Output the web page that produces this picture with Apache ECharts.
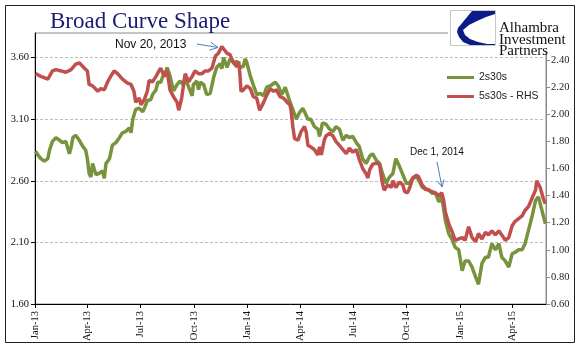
<!DOCTYPE html>
<html><head><meta charset="utf-8">
<script src="https://cdn.jsdelivr.net/npm/echarts@6/dist/echarts.min.js"></script>
<style>html,body{margin:0;padding:0;background:#fff}#c{width:583px;height:361px}</style>
</head><body><div id="c"></div>
<script>
const startDate = '2013-01-01';
const endDate = '2015-05-29';
const monthNames = ['Jan','Feb','Mar','Apr','May','Jun','Jul','Aug','Sep','Oct','Nov','Dec'];
const tickMonths = ['01','04','07','10'];

// days since 2013-01-01
const days2s30s = [1,5,10,16,22,25,30,36,42,47,53,56,59,62,65,70,76,82,87,90,93,96,99,102,105,110,116,119,122,128,133,139,145,150,156,162,165,168,173,179,185,188,193,199,202,208,211,216,219,225,
227,232,238,244,249,255,258,264,270,272,278,281,284,290,295,301,307,312,318,321,324,330,335,341,347,352,358,361,364,370,375,381,387,393,398,404,413,418,424,430,436,
437,443,449,454,460,463,469,474,480,486,489,494,500,506,512,517,523,529,535,540,546,552,557,563,569,575,580,586,592,597,603,609,615,620,626,632,638,643,649,655,
659,665,671,676,682,688,694,699,705,711,717,722,728,734,739,745,751,757,762,768,774,779,785,791,797,802,808,814,820,825,831,837,842,848,854,860,865,871,877];
const values2s30s = [2.84,2.81,2.78,2.76,2.78,2.85,2.92,2.95,2.93,2.91,2.92,2.87,2.82,2.87,2.95,2.97,2.93,2.88,2.85,2.78,2.66,2.63,2.74,2.69,2.65,2.66,2.68,2.62,2.74,2.78,2.89,2.91,2.95,2.99,3.00,3.03,2.99,3.10,3.18,3.19,3.16,3.19,3.25,3.26,3.30,3.34,3.40,3.40,3.44,3.49,
3.52,3.45,3.33,3.38,3.41,3.38,3.44,3.36,3.29,3.38,3.41,3.34,3.40,3.38,3.30,3.31,3.44,3.52,3.55,3.51,3.60,3.52,3.59,3.56,3.57,3.52,3.53,3.59,3.56,3.45,3.38,3.30,3.31,3.29,3.36,3.37,3.40,3.37,3.30,3.36,3.27,
3.26,3.18,3.10,3.15,3.19,3.16,3.10,3.10,3.04,3.02,2.96,3.07,3.06,3.02,3.00,3.04,3.02,2.93,2.97,2.95,2.96,2.91,2.88,2.78,2.74,2.80,2.82,2.77,2.74,2.66,2.58,2.63,2.66,2.78,2.72,2.65,2.58,2.58,2.62,2.63,
2.61,2.55,2.53,2.53,2.50,2.50,2.43,2.47,2.28,2.17,2.12,2.06,2.04,1.87,1.95,1.95,1.90,1.82,1.76,1.93,1.98,1.98,2.09,2.04,2.09,1.98,1.95,1.90,2.01,2.02,2.04,2.04,2.09,2.20,2.31,2.44,2.47,2.36,2.25];

const days5s30s = [1,10,22,30,36,45,53,62,70,76,85,90,93,99,108,113,119,125,130,136,142,148,153,159,165,170,173,179,182,188,193,196,202,208,213,216,222,
227,232,238,244,247,252,258,264,270,275,281,287,292,298,304,310,315,321,324,330,335,341,347,350,352,354,358,364,370,375,381,386,393,398,404,410,415,421,427,433,438,
440,443,446,452,457,463,466,469,474,480,486,489,492,497,500,506,512,517,523,529,535,540,546,552,557,563,569,572,575,580,586,592,597,600,606,612,615,620,626,632,635,640,644,649,655,
659,665,671,676,682,688,694,699,702,705,711,717,722,728,734,739,745,751,757,762,768,774,779,785,791,797,802,808,814,820,825,831,837,842,848,854,860,862,868,874,877];
const values5s30s = [2.30,2.28,2.26,2.32,2.33,2.32,2.31,2.33,2.37,2.38,2.34,2.32,2.22,2.21,2.17,2.19,2.18,2.24,2.28,2.32,2.30,2.27,2.25,2.23,2.22,2.17,2.09,2.12,2.07,2.11,2.17,2.25,2.24,2.28,2.32,2.34,2.28,
2.32,2.18,2.13,2.09,2.03,2.12,2.30,2.24,2.28,2.32,2.30,2.30,2.32,2.32,2.34,2.43,2.45,2.50,2.51,2.45,2.44,2.38,2.35,2.39,2.30,2.17,2.18,2.21,2.19,2.13,2.12,2.03,2.09,2.14,2.19,2.17,2.18,2.13,2.12,2.09,2.07,
2.03,1.91,1.82,1.81,1.87,1.91,1.87,1.77,1.76,1.74,1.70,1.76,1.70,1.81,1.84,1.86,1.84,1.80,1.77,1.74,1.71,1.75,1.72,1.74,1.67,1.60,1.56,1.53,1.59,1.63,1.64,1.63,1.49,1.44,1.48,1.46,1.51,1.46,1.50,1.48,1.43,1.42,1.46,1.53,1.55,
1.54,1.48,1.45,1.44,1.43,1.42,1.40,1.42,1.37,1.28,1.19,1.13,1.07,1.08,1.09,1.07,1.17,1.09,1.06,1.12,1.08,1.13,1.11,1.14,1.11,1.14,1.11,1.07,1.09,1.18,1.21,1.23,1.25,1.29,1.32,1.38,1.44,1.51,1.46,1.37,1.34];

const seriesNames = ['2s30s', '5s30s - RHS'];

// build daily categories
const categories = [];
(function(){
  const s = new Date(startDate + 'T00:00:00Z'), e = new Date(endDate + 'T00:00:00Z');
  for (let t = s.getTime(); t <= e.getTime(); t += 86400000) {
    categories.push(new Date(t).toISOString().slice(0,10));
  }
})();
const isQuarterStart = (i, v) => { const p = v.split('-'); return p[2] === '01' && tickMonths.includes(p[1]); };
const fmtDate = v => { const p = v.split('-'); return monthNames[+p[1]-1] + '-' + p[0].slice(2); };
const pairs = (d, v) => d.map((x, i) => [x, v[i]]);

const serif = 'Liberation Serif';
const sans = 'Liberation Sans';
const chart = echarts.init(document.getElementById('c'), null, {renderer:'canvas'});
chart.setOption({
  animation: false,
  backgroundColor: '#fff',
  title: {
    text: 'Broad Curve Shape', left: 50, top: 10, padding: 0,
    textStyle: {fontFamily: serif, fontSize: 23, fontWeight: 'normal', color: '#1b1b72'}
  },
  legend: {
    orient: 'vertical', left: 442, top: 67, itemWidth: 27, itemHeight: 3, itemGap: 8, icon: 'rect',
    data: seriesNames,
    textStyle: {fontFamily: sans, fontSize: 10.5, color: '#222'}
  },
  grid: {left: 35, right: 37, top: 33, bottom: 57, show: true, borderColor: '#8a8a8a', borderWidth: 1, containLabel: false},
  xAxis: {
    type: 'category', data: categories, boundaryGap: false,
    axisLine: {onZero: false, lineStyle: {color: '#000', width: 1}},
    axisTick: {interval: isQuarterStart, length: 4, lineStyle: {color: '#000'}},
    axisLabel: {interval: isQuarterStart, rotate: 90, margin: 7, formatter: fmtDate, fontFamily: serif, fontSize: 10.5, color: '#111'},
    splitLine: {show: false}
  },
  yAxis: [
    {
      type: 'value', position: 'left', min: 1.6, max: 3.8, interval: 0.5,
      axisLine: {show: true, lineStyle: {color: '#000'}},
      axisTick: {show: true, length: 4, lineStyle: {color: '#000'}},
      axisLabel: {formatter: v => v.toFixed(2), showMaxLabel: false, margin: 6, fontFamily: serif, fontSize: 10.5, color: '#111'},
      splitLine: {show: true, showMinLine: false, showMaxLine: false, lineStyle: {color: '#bdbdbd', type: [3, 2], width: 1}}
    },
    {
      type: 'value', position: 'right', min: 0.6, max: 2.6, interval: 0.2,
      axisLine: {show: true, lineStyle: {color: '#8a8a8a'}},
      axisTick: {show: true, length: 4, lineStyle: {color: '#8a8a8a'}},
      axisLabel: {formatter: v => v.toFixed(2), showMaxLabel: false, margin: 5, fontFamily: serif, fontSize: 10.5, color: '#222'},
      splitLine: {show: false}
    }
  ],
  series: [
    {name: seriesNames[0], type: 'line', yAxisIndex: 0, data: pairs(days2s30s, values2s30s), showSymbol: false, symbol: 'none',
     color: '#77933c', lineStyle: {width: 3.5, color: '#77933c'}},
    {name: seriesNames[1], type: 'line', yAxisIndex: 1, data: pairs(days5s30s, values5s30s), showSymbol: false, symbol: 'none',
     color: '#c0504d', lineStyle: {width: 3.5, color: '#c0504d'}}
  ],
  graphic: [
    {type: 'rect', z: 100, shape: {x: 5.5, y: 5.5, width: 569, height: 337}, style: {fill: 'none', stroke: '#222', lineWidth: 1}},
    {type: 'rect', z: 100, shape: {x: 448, y: 6, width: 126, height: 46}, style: {fill: '#fff', stroke: 'none'}},
    {type: 'rect', z: 101, shape: {x: 450.5, y: 10.5, width: 45, height: 35}, style: {fill: '#fff', stroke: '#c8c8c8', lineWidth: 1}},
    {type: 'polygon', z: 102, shape: {points: [[472,11],[495,11],[495,14],[486,17],[477,21],[469,25],[463,30],[465,35],[470,39],[478,42],[487,44],[495,44],[495,45],[470,45],[463,42],[459,37],[457,32],[458,28]]}, style: {fill: '#0d1a8a'}},
    {type: 'text', z: 102, style: {x: 499, y: 21, text: 'Alhambra', font: '15px "Liberation Serif"', fill: '#111', textBaseline: 'alphabetic'}},
    {type: 'text', z: 102, style: {x: 499, y: 32.5, text: 'Investment', font: '15px "Liberation Serif"', fill: '#111', textBaseline: 'alphabetic'}},
    {type: 'text', z: 102, style: {x: 499, y: 44, text: 'Partners', font: '15px "Liberation Serif"', fill: '#111', textBaseline: 'alphabetic'}},
    {type: 'text', z: 102, style: {x: 115, y: 45, text: 'Nov 20, 2013', font: '12px "Liberation Sans"', fill: '#111', textVerticalAlign: 'middle'}},
    {type: 'line', z: 102, shape: {x1: 197, y1: 44, x2: 218, y2: 47.5}, style: {stroke: '#4f81bd', lineWidth: 1}},
    {type: 'polyline', z: 102, shape: {points: [[210.8, 42.3], [218, 47.5], [209.4, 50.1]]}, style: {stroke: '#4f81bd', lineWidth: 1, fill: 'none'}},
    {type: 'text', z: 102, style: {x: 410, y: 152.5, text: 'Dec 1, 2014', font: '10px "Liberation Sans"', fill: '#111', textVerticalAlign: 'middle'}},
    {type: 'line', z: 102, shape: {x1: 437, y1: 162, x2: 442, y2: 187}, style: {stroke: '#4f81bd', lineWidth: 1}},
    {type: 'polyline', z: 102, shape: {points: [[437.2, 180.8], [442, 187], [444.1, 179.5]]}, style: {stroke: '#4f81bd', lineWidth: 1, fill: 'none'}}
  ]
});
</script></body></html>
